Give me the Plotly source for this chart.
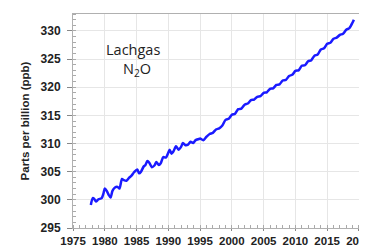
import plotly.graph_objects as go

years = [1977.8, 1978.1, 1978.3, 1978.6, 1979.0, 1979.5, 1979.8, 1980.0, 1980.3, 1980.6,
         1980.9, 1981.2, 1981.6, 1982.0, 1982.3, 1982.7, 1983.0, 1983.4, 1983.8, 1984.2,
         1984.6, 1985.1, 1985.4, 1985.7, 1986.1, 1986.4, 1986.7, 1987.0, 1987.4, 1987.8,
         1988.1, 1988.5, 1988.8, 1989.2, 1989.6, 1990.0, 1990.2, 1990.5, 1990.8, 1991.2,
         1991.6, 1992.0, 1992.3, 1992.7, 1993.1, 1993.5, 1993.9, 1994.3, 1994.8,
         1995.0, 1995.5, 1996.0, 1996.5, 1997.0, 1997.5, 1998.0, 1998.5, 1999.0, 1999.5,
         2000.0, 2000.5, 2001.0, 2001.5, 2002.0, 2002.5, 2003.0, 2003.5, 2004.0, 2004.5,
         2005.0, 2005.5, 2006.0, 2006.5, 2007.0, 2007.5, 2008.0, 2008.5, 2009.0, 2009.5,
         2010.0, 2010.5, 2011.0, 2011.5, 2012.0, 2012.5, 2013.0, 2013.5, 2014.0, 2014.5,
         2015.0, 2015.5, 2016.0, 2016.5, 2017.0, 2017.5, 2018.0, 2018.5, 2019.0, 2019.2]
n2o_ppb = [299.1, 300.3, 300.2, 299.7, 300.1, 300.3, 301.2, 302.0, 301.6, 300.9,
           300.4, 301.6, 302.2, 302.3, 302.0, 303.7, 303.5, 303.4, 303.9, 304.3,
           304.9, 305.4, 304.7, 305.0, 305.9, 306.2, 306.9, 306.6, 305.8, 306.1,
           306.7, 306.2, 306.5, 307.6, 307.5, 308.4, 308.9, 308.2, 308.6, 309.5,
           308.9, 309.4, 310.1, 309.7, 309.8, 310.3, 310.1, 310.6, 310.8,
           310.9, 310.6, 311.2, 311.7, 311.9, 312.5, 312.7, 313.2, 314.2, 314.4,
           315.1, 315.3, 316.1, 316.2, 316.9, 317.1, 317.7, 317.8, 318.3, 318.4,
           319.0, 319.1, 319.7, 319.8, 320.4, 320.5, 321.2, 321.3, 322.0, 322.2,
           322.9, 323.0, 323.8, 323.9, 324.6, 324.8, 325.6, 325.8, 326.7, 326.9,
           327.7, 327.9, 328.6, 328.8, 329.3, 329.5, 330.2, 330.5, 331.5, 332.0]

x_ticks = [1975, 1980, 1985, 1990, 1995, 2000, 2005, 2010, 2015, 2020]
y_ticks = [295, 300, 305, 310, 315, 320, 325, 330]

fig = go.Figure()
fig.add_trace(go.Scatter(x=years, y=n2o_ppb, mode="lines",
                         line=dict(color="#1a1aff", width=2.5, shape="spline", smoothing=0.7),
                         showlegend=False))

axis_common = dict(showgrid=True, gridcolor="#e6e6e6", gridwidth=1,
                   showline=True, linecolor="#b0b0b0", linewidth=1, mirror=True,
                   ticks="outside", tickcolor="#888888",
                   zeroline=False, ticklabeloverflow="allow", automargin=False)

fig.update_xaxes(range=[1974.99, 2020.01], tickvals=x_ticks, ticktext=[str(v) for v in x_ticks],
                 ticklen=2,
                 tickfont=dict(family="Liberation Sans, Arial", size=11.5, color="#222222",
                               weight="bold"),
                 minor=dict(dtick=1, ticks="inside", ticklen=3, tickcolor="#aaaaaa", showgrid=False),
                 **axis_common)
fig.update_yaxes(range=[295, 333], tickvals=y_ticks, ticktext=[str(v) for v in y_ticks],
                 ticklen=5, ticklabelstandoff=4,
                 tickfont=dict(family="Liberation Sans, Arial", size=12, color="#222222",
                               weight="bold"),
                 minor=dict(dtick=1, ticks="inside", ticklen=3, tickcolor="#aaaaaa", showgrid=False),
                 title=dict(text="Parts per billion (ppb)",
                            font=dict(family="Liberation Sans, Arial", size=11.5, color="#222222",
                                      weight="bold"), standoff=8),
                 **axis_common)

fig.add_annotation(x=1984.4, y=326.7, text="Lachgas", showarrow=False,
                   font=dict(family="Open Sans, Liberation Sans", size=14.5, color="#222222"))
fig.add_annotation(x=1985.0, y=323.2, text="N<sub>2</sub>O", showarrow=False,
                   font=dict(family="Open Sans, Liberation Sans", size=14.5, color="#222222"))

# page body adds an 8px offset; size the figure so the plot area lands where the reference has it
fig.update_layout(width=359, height=239, margin=dict(l=65, r=8, t=6, b=19),
                  plot_bgcolor="white", paper_bgcolor="white")

fig.write_html("out.html")
